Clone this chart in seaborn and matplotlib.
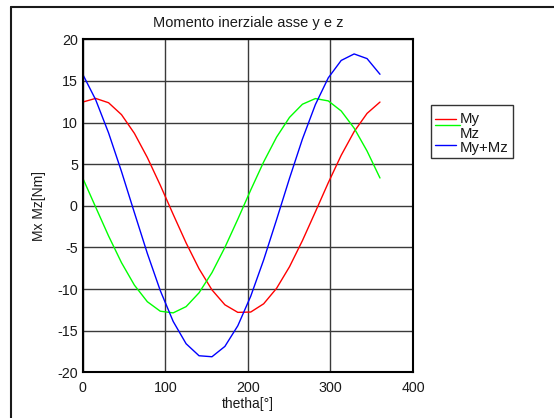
import seaborn as sns
import matplotlib.pyplot as plt
import pandas as pd
from matplotlib.lines import Line2D
from matplotlib.patches import Rectangle

# values (24 samples from 0 to 360 deg)
theta = [0, 15.65, 31.30, 46.96, 62.61, 78.26, 93.91, 109.57, 125.22, 140.87,
         156.52, 172.17, 187.83, 203.48, 219.13, 234.78, 250.43, 266.09,
         281.74, 297.39, 313.04, 328.70, 344.35, 360]
my = [12.46, 12.90, 12.38, 10.95, 8.70, 5.80, 2.48, -1.03, -4.46, -7.56,
      -10.10, -11.89, -12.80, -12.76, -11.77, -9.91, -7.32, -4.18, -0.73,
      2.77, 6.07, 8.91, 11.10, 12.46]
mz = [3.34, -0.15, -3.62, -6.83, -9.53, -11.52, -12.66, -12.86, -12.11,
      -10.45, -8.03, -5.00, -1.61, 1.90, 5.27, 8.25, 10.62, 12.20, 12.88,
      12.60, 11.39, 9.33, 6.58, 3.34]
my_mz = [15.80, 12.75, 8.76, 4.12, -0.83, -5.72, -10.18, -13.89, -16.57,
         -18.01, -18.13, -16.89, -14.41, -10.86, -6.50, -1.66, 3.30, 8.02,
         12.15, 15.37, 17.46, 18.24, 17.68, 15.80]

series_names = ['My', 'Mz', 'My+Mz']
series_colors = ['#ff0000', '#00ff00', '#0000ff']
x_ticks = [0, 100, 200, 300, 400]
y_ticks = [-20, -15, -10, -5, 0, 5, 10, 15, 20]

data = pd.DataFrame({'theta': theta, 'My': my, 'Mz': mz, 'My+Mz': my_mz})

sns.set_style('white')
plt.rcParams['font.family'] = ['Liberation Sans', 'DejaVu Sans']
plt.rcParams['axes.unicode_minus'] = False

fig = plt.figure(figsize=(5.54, 4.18), dpi=100)
fig.patch.set_facecolor('white')
ax = fig.add_axes([0.1493, 0.1093, 0.5962, 0.7967])

for name, col in zip(series_names, series_colors):
    sns.lineplot(data=data, x='theta', y=name, color=col, linewidth=1.0,
                 ax=ax, legend=False)

ax.set_xlim(0, 400)
ax.set_ylim(-20, 20)
ax.set_xticks(x_ticks)
ax.set_yticks(y_ticks)
ax.tick_params(labelsize=10.3, direction='in', length=0, colors='#1a1a1a')
ax.tick_params(axis='x', pad=6.5)
ax.tick_params(axis='y', pad=3.5)
ax.grid(True, color='#3a3a3a', linewidth=1.0)
ax.set_axisbelow(True)
for sp in ax.spines.values():
    sp.set_color('black')
    sp.set_linewidth(1.5)

ax.set_title('Momento inerziale asse y e z', fontsize=10.5, pad=8.6, color='#1a1a1a')
ax.set_xlabel('thetha[°]', fontsize=10, color='#1a1a1a')
ax.set_ylabel('Mx Mz[Nm]', fontsize=10, color='#1a1a1a')
ax.xaxis.set_label_coords(0.5, -0.074)
ax.yaxis.set_label_coords(-0.11, 0.5)

# MATLAB-style legend box (as in the screenshot)
W, H = 554, 418
fig.add_artist(Rectangle((431 / W, 1 - 158 / H), 82 / W, 53 / H,
                         transform=fig.transFigure, facecolor='white',
                         edgecolor='#333333', linewidth=1.0))
leg_lines = [(435, 456, 119.3), (435, 460, 124.7), (435, 456, 145.3)]
for (x0, x1, yy), col in zip(leg_lines, series_colors):
    fig.add_artist(Line2D([x0 / W, x1 / W], [1 - yy / H, 1 - yy / H],
                          transform=fig.transFigure, color=col, linewidth=1.0))
for name, yy in zip(series_names, [119, 133.5, 148]):
    fig.text(460 / W, 1 - yy / H, name, fontsize=10.8, va='center', ha='left',
             color='#1a1a1a')

# window frame visible at the top-left of the screenshot
fig.add_artist(Line2D([11 / W, 11 / W], [0, 1 - 7 / H], transform=fig.transFigure,
                      color='#1a1a1a', linewidth=1.5))
fig.add_artist(Line2D([11 / W, 1], [1 - 7 / H, 1 - 7 / H], transform=fig.transFigure,
                      color='#1a1a1a', linewidth=1.5))

fig.savefig('out.png', dpi=100, facecolor='white')
